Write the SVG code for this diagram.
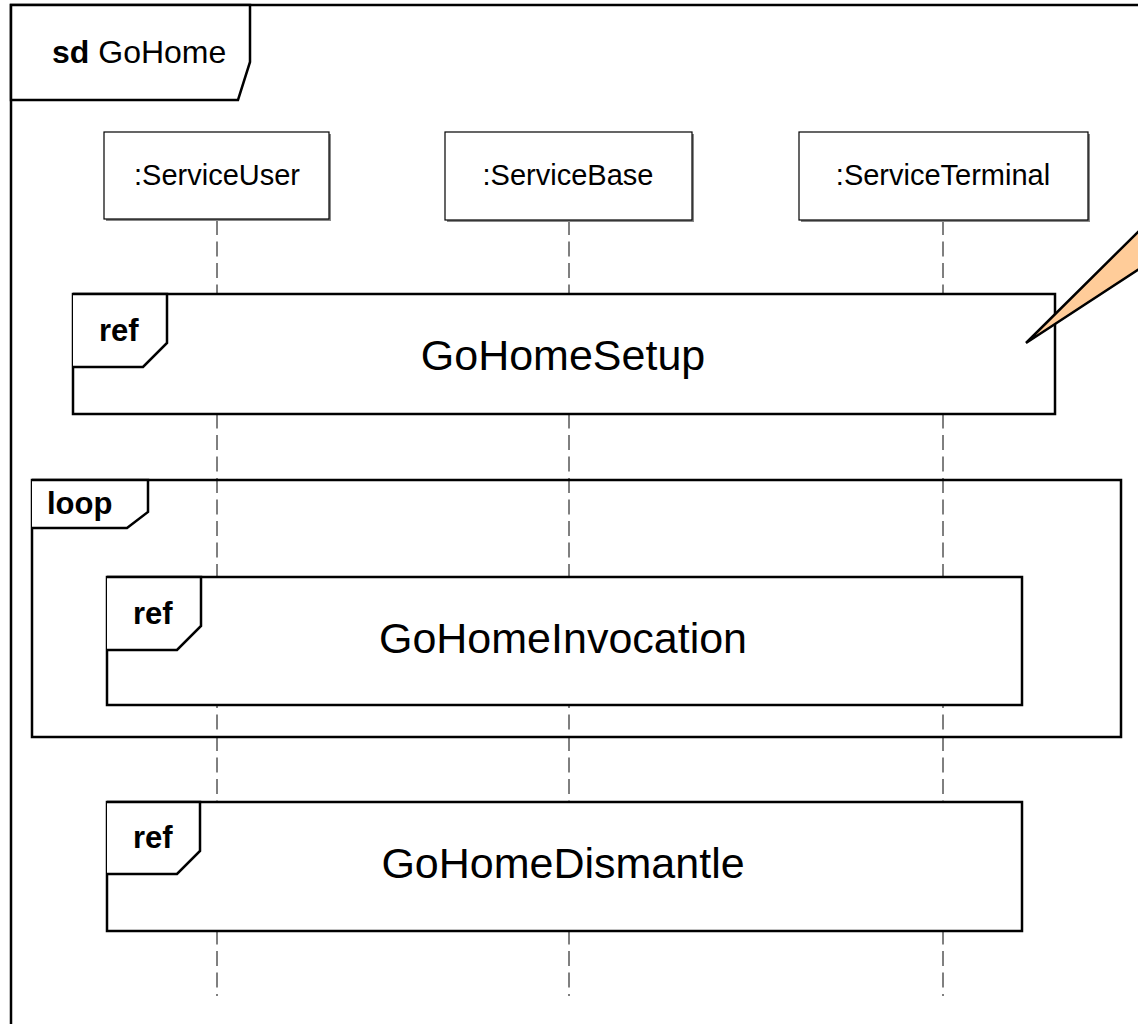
<svg xmlns="http://www.w3.org/2000/svg" width="1138" height="1024" viewBox="0 0 1138 1024">
<style>
text{font-family:"Liberation Sans",Arial,sans-serif;fill:#000}
.frame{fill:none;stroke:#000;stroke-width:2.5}
.reff{fill:#fff;stroke:#000;stroke-width:2.5}
.tab{fill:#fff;stroke:#000;stroke-width:2.5;stroke-linejoin:miter}
.head{fill:#fff;stroke:#000;stroke-width:1.2}
.shadow{fill:#888}
.life{stroke:#000;stroke-width:1;stroke-dasharray:15 6.5;fill:none}
.lbl{font-size:29px;text-anchor:middle}
.big{font-size:43px;text-anchor:middle}
.kw{font-size:31px;font-weight:bold}
</style>
<rect x="0" y="0" width="1138" height="1024" fill="#fff"/>
<g id="frame-sd">
<rect class="frame" x="11" y="5" width="1200" height="1100"/>
<path class="tab" d="M11,5 L250,5 L250,62 L238,100 L11,100 Z"/>
<text x="52" y="63" style="font-size:32px"><tspan font-weight="bold">sd</tspan> GoHome</text>
</g>
<g id="connectors">
<line class="life" x1="217" y1="220" x2="217" y2="996"/>
<line class="life" x1="569" y1="220" x2="569" y2="996"/>
<line class="life" x1="943" y1="220" x2="943" y2="996"/>
</g>
<g id="lifeline-user">
<rect class="shadow" x="106" y="134" width="225" height="87"/>
<rect class="head" x="104" y="132" width="225" height="87"/>
<text class="lbl" x="217" y="185">:ServiceUser</text>
</g>
<g id="lifeline-base">
<rect class="shadow" x="447" y="134" width="247" height="88"/>
<rect class="head" x="445" y="132" width="247" height="88"/>
<text class="lbl" x="568" y="185">:ServiceBase</text>
</g>
<g id="lifeline-terminal">
<rect class="shadow" x="801" y="134" width="289" height="88"/>
<rect class="head" x="799" y="132" width="289" height="88"/>
<text class="lbl" x="943" y="185">:ServiceTerminal</text>
</g>
<g id="ref-setup">
<rect class="reff" x="73" y="294" width="982" height="120"/>
<path class="tab" d="M73,294 L167,294 L167,343 L143,367 L73,367"/>
<text class="kw" x="99" y="341">ref</text>
<text class="big" x="563" y="370">GoHomeSetup</text>
</g>
<g id="loop">
<rect class="frame" x="32" y="480" width="1089" height="257"/>
<path class="tab" d="M32,480 L148,480 L148,512 L127,528 L32,528"/>
<text class="kw" x="47" y="514">loop</text>
</g>
<g id="ref-invocation">
<rect class="reff" x="107" y="577" width="915" height="128"/>
<path class="tab" d="M107,577 L201,577 L201,626 L177,650 L107,650"/>
<text class="kw" x="133" y="624">ref</text>
<text class="big" x="563" y="653">GoHomeInvocation</text>
</g>
<g id="ref-dismantle">
<rect class="reff" x="107" y="802" width="915" height="129"/>
<path class="tab" d="M107,802 L200,802 L200,851 L177,874 L107,874"/>
<text class="kw" x="133" y="848">ref</text>
<text class="big" x="563" y="878">GoHomeDismantle</text>
</g>
<g id="note-callout">
<path d="M1026,343 L1150,220 L1150,262 Z" fill="#FFCC99" stroke="#000" stroke-width="2.5" stroke-linejoin="miter"/>
</g>
</svg>
